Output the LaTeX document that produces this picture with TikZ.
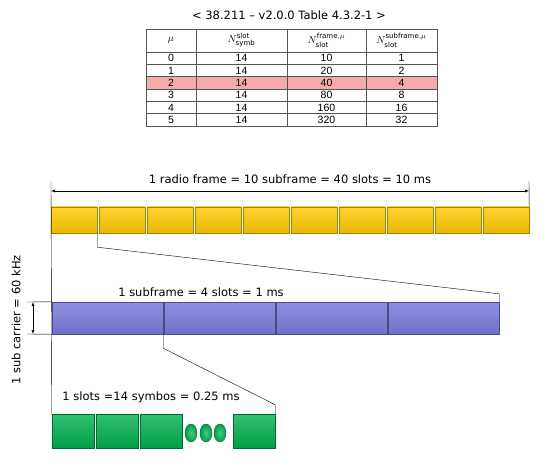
\documentclass[tikz,border=0pt]{standalone}
\usepackage{fontspec}
\setmainfont{DejaVu Sans}
\newfontfamily\tabfont{Liberation Sans}
\usepackage{tikz}
\usetikzlibrary{positioning,arrows,shapes.geometric}
\definecolor{sfyellow}{HTML}{FFC800}
\definecolor{slpurple}{HTML}{7B7BDC}
\definecolor{symgreen}{HTML}{00B050}
\definecolor{rowpink}{HTML}{F6AAAA}
\definecolor{tabgray}{HTML}{555555}
\tikzset{
  >=latex,
  sfbox/.style={draw=sfyellow!65!black, top color=sfyellow!80!white, middle color=sfyellow, bottom color=sfyellow!92!black, minimum width=46pt, minimum height=26pt, inner sep=0pt},
  slbox/.style={draw=slpurple!60!black, top color=slpurple!85!white, middle color=slpurple, bottom color=slpurple!92!black, minimum width=111pt, minimum height=32pt, inner sep=0pt},
  symbox/.style={draw=symgreen!60!black, top color=symgreen!80!white, middle color=symgreen, bottom color=symgreen!90!black, minimum width=42pt, minimum height=34pt, inner sep=0pt},
  symdot/.style={ellipse, draw=symgreen!60!black, inner color=symgreen!70!white, outer color=symgreen!90!black, minimum width=12pt, minimum height=18pt, inner sep=0pt},
  tabcell/.style={font=\tabfont\fontsize{10.5}{12}\selectfont, inner sep=0pt},
  lbl/.style={font=\fontsize{11.5}{13}\selectfont}
}
\begin{document}
\begin{tikzpicture}[x=1pt,y=-1pt]
\useasboundingbox (0,0) rectangle (554,462);

% table 4.3.2-1
\node[font=\fontsize{11.5}{13}\selectfont] (title) at (289,15) {< 38.211 – v2.0.0 Table 4.3.2-1 >};
\fill[rowpink] (146,76.7) rectangle (437,89);
\draw[tabgray, line width=0.8pt] (146,29) rectangle (437,126);
\foreach \r in {0,...,5}
  \draw[tabgray, line width=0.8pt] (146,52+12.33*\r) -- (437,52+12.33*\r);
\foreach \c in {196,287,366}
  \draw[tabgray, line width=0.8pt] (\c,29) -- (\c,126);
\node[inner sep=0pt] (h_1) at (171,40.5) {$\mu$};
\node[inner sep=0pt] (h_2) at (241.5,40.5) {$N^{\mathrm{slot}}_{\mathrm{symb}}$};
\node[inner sep=0pt] (h_3) at (326.5,40.5) {$N^{\mathrm{frame},\mu}_{\mathrm{slot}}$};
\node[inner sep=0pt] (h_4) at (401.5,40.5) {$N^{\mathrm{subframe},\mu}_{\mathrm{slot}}$};
\foreach \m/\sym/\fr/\sf [count=\i] in {0/14/10/1,1/14/20/2,2/14/40/4,3/14/80/8,4/14/160/16,5/14/320/32} {
  \node[tabcell] (mu_\i) at (171,46+12.33*\i) {\m};
  \node[tabcell] (ns_\i) at (241.5,46+12.33*\i) {\sym};
  \node[tabcell] (nf_\i) at (326.5,46+12.33*\i) {\fr};
  \node[tabcell] (nsf_\i) at (401.5,46+12.33*\i) {\sf};
}

% radio frame
\foreach \i in {1,...,10}
  \node[sfbox] (sf_\i) at (74+48*\i-48,220) {};
\coordinate (rf_l) at (51,181);
\coordinate (rf_r) at (529,181);
\coordinate (ar_l) at (51,191);
\coordinate (ar_r) at (529,191);
\draw[<->] (ar_l) -- node[lbl, above=4pt] {1 radio frame = 10 subframe = 40 slots = 10 ms} (ar_r);
\draw (rf_r) -- (sf_10.north east);

% subframe
\foreach \i in {1,...,4}
  \node[slbox] (sl_\i) at (107.5+112*\i-112,318) {};
\node[lbl] (sl_txt) at (201,292) {1 subframe = 4 slots = 1 ms};
\draw (sf_1.south east) -- ++(0,14) -- ([yshift=8pt]sl_4.north east) -- (sl_4.north east);

% sub carrier
\coordinate (dim_t) at (27,302);
\coordinate (dim_b) at (27,334);
\draw (dim_t) -- (sl_1.north west);
\draw (dim_b) -- (sl_1.south west);
\draw[<->] ([xshift=6pt]dim_t) -- ([xshift=6pt]dim_b);
\node[lbl, rotate=90] (sc) at (16,320) {1 sub carrier = 60 kHz};

% slot
\foreach \x [count=\i] in {73,117,161}
  \node[symbox] (sym_\i) at (\x,431) {};
\node[symbox] (sym_4) at (254,431) {};
\foreach \x [count=\i] in {191,206,220}
  \node[symdot] (dot_\i) at (\x,433) {};
\node[lbl] (sym_txt) at (151,397) {1 slots =14 symbos = 0.25 ms};
\draw (sl_1.south east) -- ++(0,14) -- ([yshift=9pt]sym_4.north east) -- (sym_4.north east);
\draw (rf_l) -- (sym_1.north west);
\end{tikzpicture}
\end{document}
